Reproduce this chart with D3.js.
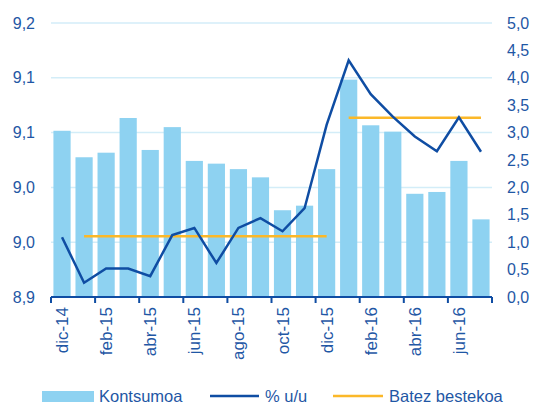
<!DOCTYPE html>
<html>
<head>
<meta charset="utf-8">
<script src="https://cdn.jsdelivr.net/npm/d3@7"></script>
<style>
  body { margin: 0; background: #fff; }
  text { font-family: "Liberation Sans", Arial, sans-serif; fill: #1f57a5; }
</style>
</head>
<body>
<div id="chart"></div>
<script>
// months dic-14 .. jul-16
var months = ["dic-14", "ene-15", "feb-15", "mar-15", "abr-15", "may-15", "jun-15", "jul-15",
  "ago-15", "sep-15", "oct-15", "nov-15", "dic-15", "ene-16", "feb-16", "mar-16",
  "abr-16", "may-16", "jun-16", "jul-16"];

// Kontsumoa (left axis)
var kontsumoa = [9.082, 9.053, 9.058, 9.096, 9.061, 9.086, 9.049, 9.046, 9.040, 9.031,
  8.995, 9.000, 9.040, 9.138, 9.088, 9.081, 9.013, 9.015, 9.049, 8.985];

// % u/u (right axis)
var urteArtekoa = [1.09, 0.26, 0.52, 0.52, 0.38, 1.13, 1.26, 0.62, 1.26, 1.44,
  1.20, 1.62, 3.14, 4.32, 3.70, 3.29, 2.93, 2.66, 3.28, 2.65];

// Batez bestekoa: yearly averages
var avgFrom = ["ene-15", "ene-16"];
var avgTo = ["dic-15", "jul-16"];
var avgValue = [1.11, 3.27];

var leftTicks = [8.9, 8.96, 9.02, 9.08, 9.14, 9.2];
var rightTicks = d3.range(0, 5.01, 0.5);
var xTickLabels = months.filter((d, i) => i % 2 === 0);

var width = 537, height = 405;
var margin = {left: 51, right: 492, top: 23, bottom: 297};

var loc = d3.formatLocale({decimal: ",", thousands: ".", grouping: [3], currency: ["", "€"]});
var fmt = loc.format(".1f");

var blue = "#8ed2f1", navy = "#0f4da3", orange = "#fbb829", grid = "#d3edf8";

var svg = d3.select("#chart").append("svg")
    .attr("width", width).attr("height", height);

var x = d3.scaleBand().domain(months)
    .range([margin.left, margin.right])
    .paddingInner(0.22).paddingOuter(0.11);

var yL = d3.scaleLinear().domain([8.9, 9.2]).range([margin.bottom, margin.top]);
var yR = d3.scaleLinear().domain([0, 5]).range([margin.bottom, margin.top]);

// gridlines
svg.append("g").selectAll("line")
  .data(leftTicks.slice(1))
  .enter().append("line")
    .attr("x1", margin.left).attr("x2", margin.right)
    .attr("y1", d => yL(d)).attr("y2", d => yL(d))
    .attr("stroke", grid).attr("stroke-width", 1.5);

// bars
svg.append("g").selectAll("rect")
  .data(kontsumoa)
  .enter().append("rect")
    .attr("x", (d, i) => x(months[i]))
    .attr("width", x.bandwidth())
    .attr("y", d => yL(d))
    .attr("height", d => yL(8.9) - yL(d))
    .attr("fill", blue);

// averages
var cx = m => x(m) + x.bandwidth() / 2;
svg.append("g").selectAll("line")
  .data(avgValue)
  .enter().append("line")
    .attr("x1", (d, i) => cx(avgFrom[i]))
    .attr("x2", (d, i) => cx(avgTo[i]))
    .attr("y1", d => yR(d)).attr("y2", d => yR(d))
    .attr("stroke", orange).attr("stroke-width", 2.5);

// % u/u line
var line = d3.line()
    .x((d, i) => cx(months[i]))
    .y(d => yR(d));
svg.append("path")
    .datum(urteArtekoa)
    .attr("d", line)
    .attr("fill", "none")
    .attr("stroke", navy)
    .attr("stroke-width", 2.5)
    .attr("stroke-linejoin", "miter");

// left axis labels
svg.append("g").selectAll("text")
  .data(leftTicks)
  .enter().append("text")
    .attr("x", 35).attr("y", d => yL(d))
    .attr("dy", "0.35em")
    .attr("text-anchor", "end")
    .style("font-size", "16px")
    .text(d => fmt(d));

// right axis labels
svg.append("g").selectAll("text")
  .data(rightTicks)
  .enter().append("text")
    .attr("x", 507).attr("y", d => yR(d))
    .attr("dy", "0.35em")
    .attr("text-anchor", "start")
    .style("font-size", "16px")
    .text(d => fmt(d));

// bottom axis
var step = x.step();
var xTicks = d3.range(0, months.length + 1, 2).map(i => margin.left + i * step);
var axis = svg.append("g");
axis.append("line")
    .attr("x1", margin.left).attr("x2", margin.right)
    .attr("y1", margin.bottom).attr("y2", margin.bottom)
    .attr("stroke", navy).attr("stroke-width", 2);
axis.selectAll(".tick")
  .data(xTicks)
  .enter().append("line")
    .attr("x1", d => d).attr("x2", d => d)
    .attr("y1", margin.bottom).attr("y2", margin.bottom + 6)
    .attr("stroke", navy).attr("stroke-width", 2);
axis.selectAll("text")
  .data(xTickLabels)
  .enter().append("text")
    .attr("transform", d => `translate(${cx(d) + 6},307) rotate(-90)`)
    .attr("text-anchor", "end")
    .style("font-size", "17px")
    .text(d => d);

// legend
var leg = svg.append("g").style("font-size", "16.5px");
leg.append("rect").attr("x", 42).attr("y", 391).attr("width", 52).attr("height", 11).attr("fill", blue);
leg.append("text").attr("x", 99).attr("y", 402).text("Kontsumoa");
leg.append("line").attr("x1", 210).attr("x2", 259).attr("y1", 396).attr("y2", 396)
    .attr("stroke", navy).attr("stroke-width", 2.3);
leg.append("text").attr("x", 265).attr("y", 402).text("% u/u");
leg.append("line").attr("x1", 333).attr("x2", 383).attr("y1", 396).attr("y2", 396)
    .attr("stroke", orange).attr("stroke-width", 2.3);
leg.append("text").attr("x", 389).attr("y", 402).text("Batez bestekoa");
</script>
</body>
</html>
